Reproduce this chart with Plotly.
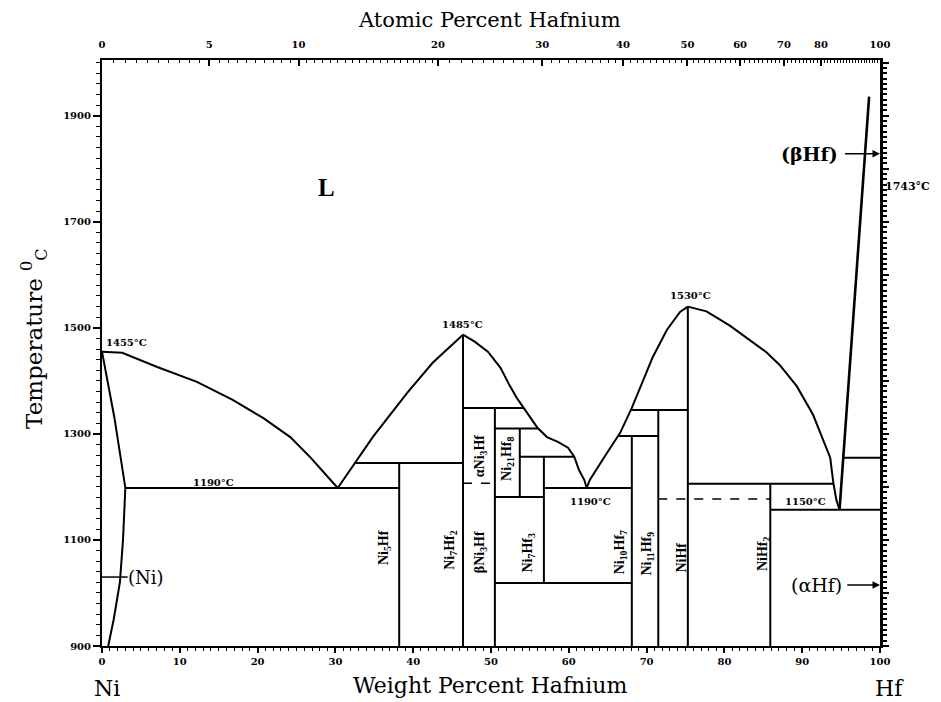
import plotly.graph_objects as go

# ---------------- data (wt% Hf, temperature degC) ----------------
ni_liq_wt = [0, 2.6, 7.1, 12.2, 16.8, 20.7, 24.2, 26.7, 30.3]
ni_liq_T = [1455, 1453, 1426, 1398, 1364, 1330, 1294, 1257, 1198]

ni_sol_wt = [0, 1.6, 3.0]
ni_sol_T = [1455, 1330, 1198]

ni_solvus_wt = [3.0, 2.7, 2.3, 1.5, 0.8]
ni_solvus_T = [1198, 1100, 1020, 950, 900]

ni7hf2_left_wt = [30.3, 32.5, 34.8, 39.2, 42.5, 46.4]
ni7hf2_left_T = [1198, 1245, 1294, 1377, 1434, 1487]

ni7hf2_right_wt = [46.4, 47.9, 49.6, 51.2, 52.4, 53.3, 54.2, 55.1, 56.0, 57.2, 58.6, 59.9, 60.7, 61.3, 62.0, 62.3]
ni7hf2_right_T = [1487, 1474, 1455, 1425, 1391, 1368, 1349, 1330, 1311, 1294, 1285, 1274, 1257, 1232, 1213, 1198]

nihf_left_wt = [62.3, 62.7, 64.9, 66.6, 68.1, 69.2, 70.8, 72.6, 74.3, 75.3]
nihf_left_T = [1198, 1213, 1264, 1302, 1349, 1389, 1445, 1496, 1530, 1540]

nihf_right_wt = [75.3, 77.7, 80.7, 83.3, 85.4, 87.1, 89.3, 91.4, 92.7, 93.6, 94.0, 94.4, 94.8]
nihf_right_T = [1540, 1531, 1504, 1477, 1454, 1430, 1390, 1336, 1289, 1255, 1208, 1175, 1157]

bhf_liq_wt = [94.8, 98.6]
bhf_liq_T = [1157, 1936]

# compound lines (vertical): composition, lower T, upper T
vert_wt = [38.2, 46.4, 50.5, 53.7, 56.8, 68.1, 71.5, 75.3, 85.9]
vert_T_low = [900, 900, 900, 1181, 1019, 900, 900, 900, 900]
vert_T_high = [1245, 1487, 1349, 1310, 1257, 1296, 1345, 1540, 1206]

# invariant lines (horizontal): temperature, start wt, end wt
horiz_T = [1198, 1245, 1349, 1310, 1181, 1257, 1198, 1019, 1296, 1345, 1206, 1157, 1255]
horiz_wt_start = [3.0, 32.5, 46.4, 50.5, 50.5, 53.7, 56.8, 50.5, 66.4, 68.0, 75.3, 85.9, 95.3]
horiz_wt_end = [38.2, 46.4, 54.2, 56.0, 56.8, 60.7, 68.1, 68.1, 71.5, 75.3, 94.0, 100, 100]

# dashed transformation lines
dash_T = [1177, 1207]
dash_wt_start = [71.5, 46.4]
dash_wt_end = [85.9, 50.5]

# temperature labels
temp_labels = ["1455°C", "1190°C", "1485°C", "1190°C", "1530°C", "1150°C"]
temp_label_wt = [0.3, 14.3, 46.3, 62.8, 75.6, 90.4]
temp_label_T = [1472, 1209, 1506, 1172, 1560, 1172]
temp_label_anchor = ["left", "center", "center", "center", "center", "center"]

# Hf allotropic transformation label (right of the Hf axis)
hf_trans_label = "1743°C"
hf_trans_label_T = 1766

# phase labels (rotated)
phase_labels = ["Ni<sub>5</sub>Hf", "Ni<sub>7</sub>Hf<sub>2</sub>", "αNi<sub>3</sub>Hf", "βNi<sub>3</sub>Hf",
                "Ni<sub>21</sub>Hf<sub>8</sub>", "Ni<sub>7</sub>Hf<sub>3</sub>", "Ni<sub>10</sub>Hf<sub>7</sub>",
                "Ni<sub>11</sub>Hf<sub>9</sub>", "NiHf", "NiHf<sub>2</sub>"]
phase_label_wt = [36.4, 44.7, 48.6, 48.6, 52.2, 54.8, 66.6, 70.1, 74.5, 85.0]
phase_label_T = [1085, 1081, 1258, 1077, 1253, 1075, 1077, 1075, 1066, 1074]

# axes
wt_ticks = list(range(0, 101, 10))
T_ticks = [900, 1100, 1300, 1500, 1700, 1900]
at_ticks = [0, 5, 10, 20, 30, 40, 50, 60, 70, 80, 100]
M_HF, M_NI = 178.49, 58.69


def at_to_wt(a):
    return 100.0 * a * M_HF / (a * M_HF + (100 - a) * M_NI)


at_tick_pos = [at_to_wt(a) for a in at_ticks]
at_minor = [i * 0.5 for i in range(0, 41)] + list(range(21, 100))
at_minor_pos = [at_to_wt(a) for a in at_minor]

# ---------------- figure ----------------
fig = go.Figure()
LW = 2
curves = [(ni_liq_wt, ni_liq_T), (ni_sol_wt, ni_sol_T), (ni_solvus_wt, ni_solvus_T),
          (ni7hf2_left_wt, ni7hf2_left_T), (ni7hf2_right_wt, ni7hf2_right_T),
          (nihf_left_wt, nihf_left_T), (nihf_right_wt, nihf_right_T)]
for xs, ys in curves:
    fig.add_trace(go.Scatter(x=xs, y=ys, mode="lines", line=dict(color="black", width=LW),
                             hoverinfo="skip", showlegend=False))
fig.add_trace(go.Scatter(x=bhf_liq_wt, y=bhf_liq_T, mode="lines", line=dict(color="black", width=2.6),
                         hoverinfo="skip", showlegend=False))

vx, vy = [], []
for w, lo, hi in zip(vert_wt, vert_T_low, vert_T_high):
    vx += [w, w, None]
    vy += [lo, hi, None]
fig.add_trace(go.Scatter(x=vx, y=vy, mode="lines", line=dict(color="black", width=LW),
                         hoverinfo="skip", showlegend=False))

hx, hy = [], []
for t, a, b in zip(horiz_T, horiz_wt_start, horiz_wt_end):
    hx += [a, b, None]
    hy += [t, t, None]
fig.add_trace(go.Scatter(x=hx, y=hy, mode="lines", line=dict(color="black", width=LW),
                         hoverinfo="skip", showlegend=False))

dx, dy = [], []
for t, a, b in zip(dash_T, dash_wt_start, dash_wt_end):
    dx += [a, b, None]
    dy += [t, t, None]
fig.add_trace(go.Scatter(x=dx, y=dy, mode="lines", line=dict(color="black", width=1.5, dash="dash"),
                         hoverinfo="skip", showlegend=False))

# (Ni) marker line
fig.add_trace(go.Scatter(x=[0, 3.3], y=[1030, 1030], mode="lines", line=dict(color="black", width=1.5),
                         hoverinfo="skip", showlegend=False))

# invisible trace for secondary axes
fig.add_trace(go.Scatter(x=[0, 100], y=[900, 2005], xaxis="x2", yaxis="y2", mode="markers",
                         marker=dict(opacity=0), hoverinfo="skip", showlegend=False))

SERIF = "Liberation Serif"
DSERIF = "DejaVu Serif"
ann = []
for txt, w, t, anc in zip(temp_labels, temp_label_wt, temp_label_T, temp_label_anchor):
    ann.append(dict(x=w, y=t, xref="x", yref="y", text="<b>" + txt + "</b>", showarrow=False,
                    xanchor=anc, yanchor="middle", font=dict(family=DSERIF, size=10, color="black")))
for txt, w, t in zip(phase_labels, phase_label_wt, phase_label_T):
    ann.append(dict(x=w, y=t, xref="x", yref="y", text="<b>" + txt + "</b>", showarrow=False,
                    textangle=-90, xanchor="center", yanchor="middle",
                    font=dict(family=SERIF, size=14, color="black")))

ann += [
    dict(x=28.9, y=1764, xref="x", yref="y", text="<b>L</b>", showarrow=False,
         xanchor="center", yanchor="middle", font=dict(family=SERIF, size=25, color="black")),
    dict(x=3.1, y=1030, xref="x", yref="y", text="(Ni)", showarrow=False, xanchor="left", yanchor="middle",
         font=dict(family=DSERIF, size=18, color="black")),
    dict(x=94.9, y=1828, xref="x", yref="y", text="<b>(βHf)</b>", showarrow=False, xanchor="right",
         yanchor="middle", font=dict(family=DSERIF, size=19, color="black")),
    dict(x=100, y=1828, xref="x", yref="y", ax=95.3, ay=1828, axref="x", ayref="y", text="",
         showarrow=True, arrowhead=2, arrowsize=1, arrowwidth=1.5, arrowcolor="black"),
    dict(x=95.4, y=1015, xref="x", yref="y", text="(αHf)", showarrow=False, xanchor="right",
         yanchor="middle", font=dict(family=DSERIF, size=19, color="black")),
    dict(x=100, y=1015, xref="x", yref="y", ax=95.6, ay=1015, axref="x", ayref="y", text="",
         showarrow=True, arrowhead=2, arrowsize=1, arrowwidth=1.5, arrowcolor="black"),
    dict(x=1.004, y=hf_trans_label_T, xref="paper", yref="y", text="<b>" + hf_trans_label + "</b>",
         showarrow=False, xanchor="left", yanchor="middle",
         font=dict(family=DSERIF, size=11, color="black")),
    dict(x=0.4987, y=1.069, xref="paper", yref="paper", text="Atomic Percent Hafnium", showarrow=False,
         xanchor="center", yanchor="middle", font=dict(family=DSERIF, size=21, color="black")),
    dict(x=0.4987, y=-0.068, xref="paper", yref="paper", text="Weight Percent Hafnium", showarrow=False,
         xanchor="center", yanchor="middle", font=dict(family=DSERIF, size=22, color="black")),
    dict(x=0.007, y=-0.073, xref="paper", yref="paper", text="Ni", showarrow=False,
         xanchor="center", yanchor="middle", font=dict(family=DSERIF, size=22, color="black")),
    dict(x=1.012, y=-0.073, xref="paper", yref="paper", text="Hf", showarrow=False,
         xanchor="center", yanchor="middle", font=dict(family=DSERIF, size=22, color="black")),
    dict(x=-0.088, y=0.525, xref="paper", yref="paper", text="Temperature <sup>0</sup><sub>C</sub>",
         showarrow=False, textangle=-90, xanchor="center", yanchor="middle",
         font=dict(family=DSERIF, size=23, color="black")),
]

tickfont = dict(family=DSERIF, size=10, color="black", weight="bold")
fig.update_layout(
    width=941, height=702,
    margin=dict(l=94, r=69, t=52, b=64),
    paper_bgcolor="white", plot_bgcolor="white",
    showlegend=False,
    annotations=ann,
    xaxis=dict(range=[0, 100], tickmode="array", tickvals=wt_ticks, ticks="outside", ticklen=5,
               tickwidth=1.5, tickcolor="black", showline=True, linecolor="black", linewidth=2,
               showgrid=False, zeroline=False, tickfont=tickfont,
               minor=dict(dtick=1, ticks="outside", ticklen=3, tickcolor="black", tickwidth=1)),
    xaxis2=dict(range=[0, 100], overlaying="x", side="top", anchor="y", tickmode="array",
                tickvals=at_tick_pos, ticktext=[str(a) for a in at_ticks], ticks="inside", ticklen=6,
                tickwidth=1.5, tickcolor="black", showline=True, linecolor="black", linewidth=1.5,
                showgrid=False, zeroline=False, tickfont=tickfont, ticklabelstandoff=6,
                minor=dict(tickmode="array", tickvals=at_minor_pos, ticks="inside", ticklen=3,
                           tickcolor="black", tickwidth=1)),
    yaxis=dict(range=[900, 2005], tickmode="array", tickvals=T_ticks, ticks="outside", ticklen=7,
               tickwidth=1.5, tickcolor="black", showline=True, linecolor="black", linewidth=2,
               showgrid=False, zeroline=False, tickfont=tickfont,
               minor=dict(dtick=20, tick0=900, ticks="outside", ticklen=4, tickcolor="black", tickwidth=1)),
    yaxis2=dict(range=[900, 2005], overlaying="y", side="right", anchor="x", tickmode="linear",
                tick0=900, dtick=100, ticks="outside", ticklen=6, tickwidth=1.5, tickcolor="black",
                showticklabels=False, showline=True, linecolor="black", linewidth=2.5,
                showgrid=False, zeroline=False,
                minor=dict(dtick=10, tick0=900, ticks="outside", ticklen=4, tickcolor="black", tickwidth=1.5)),
)

fig.write_html("out.html")
